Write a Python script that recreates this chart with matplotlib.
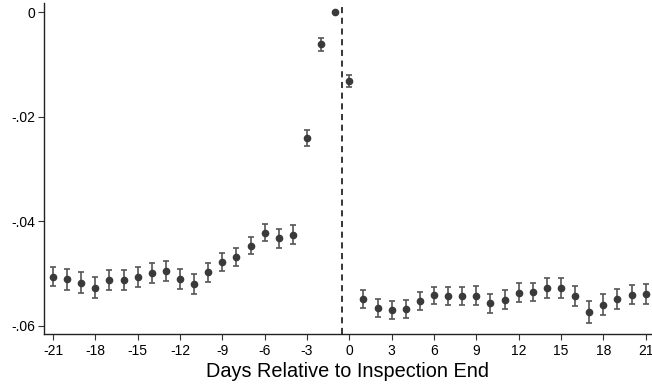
import matplotlib
matplotlib.use("Agg")
import matplotlib.pyplot as plt
import numpy as np

plt.rcParams['font.family'] = ['Liberation Sans', 'DejaVu Sans']

days = list(range(-21, 22))
coef = [-0.0506, -0.0511, -0.0518, -0.0527, -0.0512, -0.0512, -0.0507, -0.0499,
        -0.0496, -0.0511, -0.0520, -0.0498, -0.0478, -0.0469, -0.0447, -0.0422,
        -0.0433, -0.0426, -0.0240, -0.0061, 0.0, -0.0131, -0.0549, -0.0566,
        -0.0570, -0.0568, -0.0553, -0.0542, -0.0543, -0.0543, -0.0543, -0.0557,
        -0.0550, -0.0537, -0.0536, -0.0528, -0.0528, -0.0544, -0.0574, -0.0560,
        -0.0549, -0.0541, -0.0539]
half_ci = [0.0019, 0.0020, 0.0020, 0.0020, 0.0019, 0.0019, 0.0019, 0.0019,
           0.0019, 0.0019, 0.0019, 0.0018, 0.0017, 0.0017, 0.0016, 0.0016,
           0.0018, 0.0018, 0.0015, 0.0012, 0.0, 0.0012, 0.0017, 0.0017,
           0.0017, 0.0017, 0.0017, 0.0016, 0.0017, 0.0017, 0.0018, 0.0018,
           0.0018, 0.0018, 0.0017, 0.0019, 0.0019, 0.0019, 0.0021, 0.0020,
           0.0019, 0.0018, 0.0019]
event_line = -0.5
xticks = list(range(-21, 22, 3))
yticks = [0, -0.02, -0.04, -0.06]
ytick_labels = ['0', '-.02', '-.04', '-.06']

fig = plt.figure(figsize=(6.52, 3.85), dpi=100)
ax = fig.add_axes([44/652, 1-334/385, 1-44/652, (334-3)/385])

days_a = np.array(days)
coef_a = np.array(coef)
ci_a = np.array(half_ci)
mask = ci_a > 0
ax.errorbar(days_a[mask], coef_a[mask], yerr=ci_a[mask], fmt='none',
            ecolor='#555555', elinewidth=1.2, capsize=2.5, capthick=1.2, zorder=2)
ax.plot(days_a, coef_a, 'o', color='#3a3a3a', markersize=4.5, zorder=3)
ax.axvline(event_line, color='black', linestyle=(0, (4, 3)), linewidth=1.1, zorder=1)

ax.set_xlim(-21.64, 21.45)
ax.set_ylim(-0.0616, 0.0018)
ax.set_xticks(xticks)
ax.set_xticklabels([str(t) for t in xticks])
ax.set_yticks(yticks)
ax.set_yticklabels(ytick_labels)
ax.tick_params(axis='both', labelsize=10, length=4, width=0.8, color='#333333')
ax.tick_params(axis='x', pad=3)
ax.tick_params(axis='y', pad=2)
for s in ['top', 'right']:
    ax.spines[s].set_visible(False)
for s in ['left', 'bottom']:
    ax.spines[s].set_linewidth(1.0)
    ax.spines[s].set_color('#222222')
ax.set_xlabel('Days Relative to Inspection End', fontsize=14.3, labelpad=3)

fig.savefig('out.png', dpi=100)
